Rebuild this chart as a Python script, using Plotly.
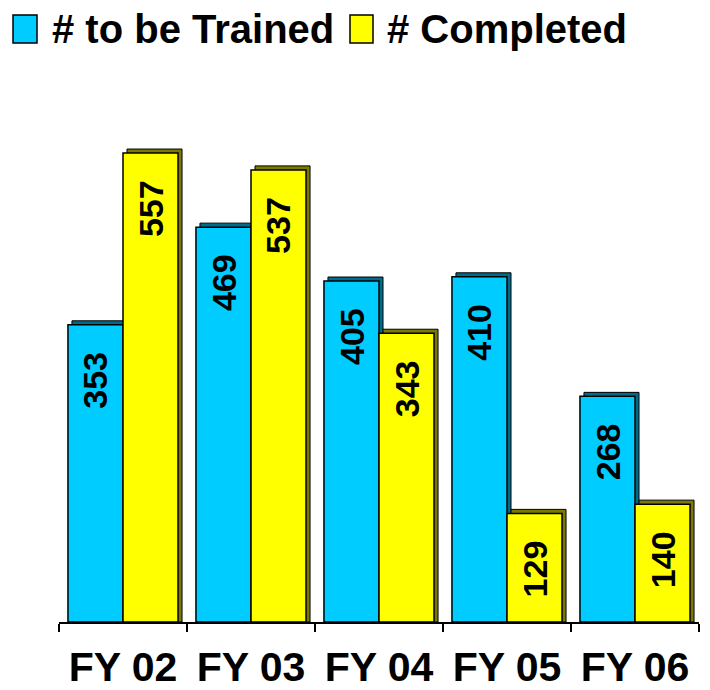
import plotly.graph_objects as go

# Training counts per fiscal year
years = ["FY 02", "FY 03", "FY 04", "FY 05", "FY 06"]
to_be_trained = [353, 469, 405, 410, 268]
completed = [557, 537, 343, 129, 140]
series_names = ["# to be Trained", "# Completed"]

BLUE = "#00CCFF"
BLUE_DARK = "#006C8C"
YELLOW = "#FFFF00"
YELLOW_DARK = "#7A7A00"
FONT = "Arial, Liberation Sans, sans-serif"

# plot-area geometry (pixels) used for the extruded look and the legend
W, H = 710, 690
ML, MR, MT, MB = 59, 11, 100, 68
YMAX = 620
plot_w = W - ML - MR
plot_h = H - MT - MB

bar_w = 0.43          # bar width in category units
depth_x = 4 / (plot_w / len(years))   # extrusion depth, category units
depth_y = 4 * YMAX / plot_h           # extrusion depth, value units

fig = go.Figure()

def add_series(values, offset, face, side, name):
    # dark extruded back face
    fig.add_trace(go.Bar(
        x=years, y=[v + depth_y for v in values],
        width=bar_w, offset=offset + depth_x,
        marker=dict(color=side, line=dict(color="black", width=1)),
        hoverinfo="skip", showlegend=False,
    ))
    # front face
    fig.add_trace(go.Bar(
        x=years, y=values, name=name,
        width=bar_w, offset=offset,
        marker=dict(color=face, line=dict(color="black", width=1.5)),
        showlegend=False,
    ))
    # vertical value label just below the top of each bar
    for i, v in enumerate(values):
        fig.add_annotation(
            x=i + offset + bar_w / 2, y=v, xref="x", yref="y",
            text=f"<b>{v}</b>", textangle=-90, showarrow=False,
            xanchor="center", yanchor="top", yshift=-25,
            font=dict(family=FONT, size=34, color="black"),
        )

add_series(to_be_trained, -bar_w, BLUE, BLUE_DARK, series_names[0])
add_series(completed, 0.0, YELLOW, YELLOW_DARK, series_names[1])

# legend drawn as swatches + labels above the plot area
def px_x(p):
    return (p - ML) / plot_w

def px_y(p):
    return (H - MB - p) / plot_h

legend_items = [
    (series_names[0], BLUE, 13, 37, 50),
    (series_names[1], YELLOW, 350, 373, 385),
]
for label, color, sx0, sx1, tx in legend_items:
    fig.add_shape(type="rect", xref="paper", yref="paper",
                  x0=px_x(sx0), x1=px_x(sx1), y0=px_y(43), y1=px_y(15),
                  fillcolor=color, line=dict(color="black", width=1.5))
    fig.add_annotation(xref="paper", yref="paper", x=px_x(tx), y=px_y(29),
                       xanchor="left", yanchor="middle", showarrow=False,
                       text=f"<b>{label}</b>",
                       font=dict(family=FONT, size=40, color="black"))

fig.update_layout(
    width=W, height=H,
    margin=dict(l=ML, r=MR, t=MT, b=MB),
    barmode="overlay",
    plot_bgcolor="white", paper_bgcolor="white",
    showlegend=False,
)
fig.update_xaxes(
    type="category", range=[-0.5, len(years) - 0.5],
    showline=True, linecolor="black", linewidth=2,
    ticks="outside", tickson="boundaries", ticklen=8, tickwidth=1.5, tickcolor="black",
    tickfont=dict(family=FONT, size=41, color="black", weight="bold"),
    ticklabelstandoff=8, automargin=False,
    showgrid=False,
)
fig.update_yaxes(range=[0, YMAX], visible=False, showgrid=False, automargin=False)

fig.write_html("out.html")
